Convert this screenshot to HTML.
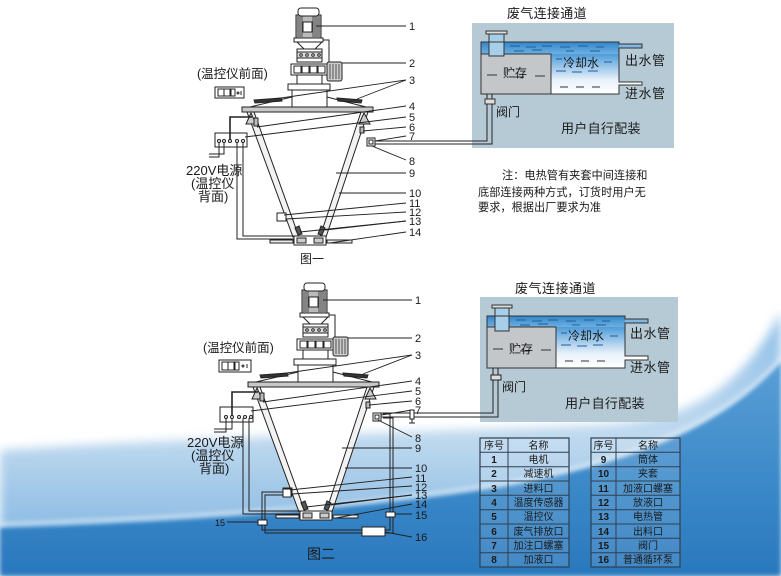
<!DOCTYPE html>
<html><head><meta charset="utf-8"><style>
html,body{margin:0;padding:0;background:#fff;}
svg{display:block;}
text{font-family:"Liberation Sans","Noto Sans CJK SC",sans-serif;fill:#1a1a1a;}
</style></head><body>
<svg width="781" height="576" viewBox="0 0 781 576" xmlns="http://www.w3.org/2000/svg">
<defs>
<linearGradient id="gl" gradientUnits="userSpaceOnUse" x1="0" y1="320" x2="0" y2="530">
<stop offset="0" stop-color="#8fbfe8"/><stop offset="0.55" stop-color="#c0daef"/><stop offset="1" stop-color="#8cbbe3"/></linearGradient>
<linearGradient id="gd" gradientUnits="userSpaceOnUse" x1="0" y1="360" x2="0" y2="576">
<stop offset="0" stop-color="#5b9fd6"/><stop offset="0.6" stop-color="#3a88c8"/><stop offset="1" stop-color="#2a78bd"/></linearGradient>
<linearGradient id="wtop" x1="0" y1="0" x2="0" y2="1"><stop offset="0" stop-color="#2f86cc"/><stop offset="1" stop-color="#6fb0e0"/></linearGradient>
<linearGradient id="wcool" x1="0" y1="0" x2="0" y2="1"><stop offset="0" stop-color="#4f9cd9"/><stop offset="0.65" stop-color="#e8f2fa"/><stop offset="1" stop-color="#ffffff"/></linearGradient>
<filter id="bl" x="-10%" y="-10%" width="120%" height="130%"><feGaussianBlur stdDeviation="5"/></filter>
<filter id="bl2"><feGaussianBlur stdDeviation="2"/></filter>
</defs>

<!-- background wave -->
<path d="M0,450 C180,438 420,432 600,425 C690,420 740,390 781,312 V576 H0 Z" fill="url(#gl)" filter="url(#bl)"/>
<path d="M0,528 C200,522 400,506 520,484 C620,464 720,432 781,362 V576 H0 Z" fill="url(#gd)" filter="url(#bl2)"/>
<path d="M0,524 C200,518 400,502 520,480 C620,460 720,428 781,358" fill="none" stroke="#e6f1fa" stroke-width="3" opacity="0.7" filter="url(#bl2)"/>

<!-- ================= TOP MACHINE ================= -->
<g id="mach" stroke="#222" stroke-width="1" fill="#fff">
 <polygon points="247,112 368,112 326,238 293,238" stroke="none"/>
 <polygon points="247,112 254,112 299,237 293,237" fill="#f2f2f2"/>
 <polygon points="361,112 368,112 326,237 320,237" fill="#f2f2f2"/>
 <polygon points="246,124 251,113 256,124" fill="#ccc"/>
 <polygon points="359,124 364,113 370,124" fill="#ccc"/>
 <rect x="254" y="118" width="4" height="8" fill="#bbb"/>
 <rect x="360" y="127" width="4" height="6" fill="#bbb"/>
 <polygon points="292,97 250,107 366,107 327,97"/>
 <rect x="242" y="107" width="131" height="5" fill="#c8c8c8"/>
 <polygon points="254,100 281,98 282,101 255,103" fill="#333"/>
 <polygon points="337,98 362,100 361,103 338,101" fill="#333"/>
 <rect x="292" y="90" width="35" height="17"/>
 <rect x="288" y="84" width="42" height="6"/>
 <rect x="297" y="75" width="25" height="9"/>
 <rect x="291" y="64" width="36" height="11"/>
 <rect x="294" y="66" width="7" height="7"/><rect x="302" y="66" width="7" height="7"/><rect x="310" y="66" width="7" height="7"/><rect x="318" y="66" width="7" height="7"/>
 <rect x="297" y="49" width="25" height="13"/>
 <rect x="297" y="52" width="25" height="6" fill="#ddd"/>
 <circle cx="301" cy="55" r="1.3"/><circle cx="307" cy="55" r="1.3"/><circle cx="313" cy="55" r="1.3"/><circle cx="319" cy="55" r="1.3"/>
 <polygon points="297,42 322,42 315,49 304,49"/>
 <rect x="294" y="38" width="29" height="4"/>
 <rect x="296" y="15" width="25" height="23" fill="#bbb"/>
 <g stroke="#333" stroke-width="0.8">
  <line x1="298" y1="16" x2="298" y2="37"/><line x1="300" y1="16" x2="300" y2="37"/><line x1="302" y1="16" x2="302" y2="37"/><line x1="313" y1="16" x2="313" y2="37"/><line x1="315" y1="16" x2="315" y2="37"/><line x1="317" y1="16" x2="317" y2="37"/><line x1="319" y1="16" x2="319" y2="37"/>
 </g>
 <rect x="298" y="8" width="21" height="8" rx="3"/>
 <rect x="303" y="22" width="9" height="10"/>
 <path d="M323,40 H329 V62" fill="none"/>
 <rect x="327" y="62" width="15" height="19" rx="2" fill="#ccc"/>
 <g stroke="#333" stroke-width="0.8"><line x1="330" y1="64" x2="330" y2="79"/><line x1="333" y1="64" x2="333" y2="79"/><line x1="336" y1="64" x2="336" y2="79"/><line x1="339" y1="64" x2="339" y2="79"/></g>
 <rect x="367" y="138" width="8" height="8"/><rect x="369" y="140" width="4" height="4"/>
 <rect x="277" y="213" width="9" height="8"/>
 <polygon points="295,228 299,226 302,234 298,235" fill="#555"/>
 <polygon points="321,226 325,228 322,235 318,234" fill="#555"/>
 <rect x="270" y="240" width="23" height="3" fill="#eee"/>
 <rect x="327" y="240" width="25" height="3" fill="#eee"/>
 <rect x="294" y="236" width="32" height="9"/>
 <rect x="297" y="238" width="9" height="5" fill="#ccc"/><rect x="314" y="238" width="9" height="5" fill="#ccc"/>
</g>

<!-- top controller -->
<g stroke="#222" fill="#fff">
 <rect x="215" y="87" width="29" height="11"/>
 <rect x="218" y="89" width="6" height="7"/><rect x="224" y="89" width="6" height="7"/><rect x="231" y="89" width="4" height="7"/>
 <circle cx="238" cy="93" r="1" /><line x1="241" y1="91" x2="241" y2="95"/>
 <rect x="215" y="133" width="32" height="14"/>
 <circle cx="219" cy="141" r="1.5"/><circle cx="224" cy="141" r="1.5"/><circle cx="230" cy="141" r="1.5"/><circle cx="237" cy="141" r="1.5"/><circle cx="243" cy="141" r="1.5"/>
 <path d="M230,140 V117 H252" fill="none" stroke-width="1.6"/>
 <path d="M219,142 V157 H209" fill="none"/><path d="M224,142 V154 H209" fill="none"/>
 <path d="M237,142 V239 H294" fill="none"/><path d="M243,142 V236 H294" fill="none"/>
 <line x1="245" y1="137" x2="406" y2="117"/>
</g>

<!-- top label lines -->
<g stroke="#222" stroke-width="0.9">
 <line x1="316" y1="26" x2="406" y2="26"/>
 <line x1="342" y1="63" x2="406" y2="63"/>
 <line x1="274" y1="99" x2="406" y2="80"/><line x1="357" y1="99" x2="406" y2="80"/>
 <line x1="257" y1="127" x2="406" y2="106"/>
 <line x1="363" y1="131" x2="406" y2="127"/>
 <line x1="375" y1="141" x2="406" y2="136"/>
 <line x1="372" y1="146" x2="406" y2="160"/>
 <line x1="336" y1="173" x2="406" y2="173"/>
 <line x1="339" y1="193" x2="406" y2="193"/>
 <line x1="284" y1="215" x2="406" y2="203"/>
 <line x1="286" y1="219" x2="406" y2="212"/>
 <line x1="300" y1="232" x2="406" y2="221"/><line x1="325" y1="230" x2="406" y2="221"/>
 <line x1="330" y1="243" x2="406" y2="232"/>
</g>
<g font-size="11">
 <text x="409" y="30">1</text><text x="409" y="67">2</text><text x="409" y="84">3</text>
 <text x="409" y="110">4</text><text x="409" y="121">5</text><text x="409" y="131">6</text>
 <text x="409" y="140">7</text><text x="409" y="165">8</text><text x="409" y="177">9</text>
 <text x="409" y="197">10</text><text x="409" y="207">11</text><text x="409" y="216">12</text>
 <text x="409" y="225">13</text><text x="409" y="236">14</text>
</g>
<text x="197" y="78" font-size="12.5">(温控仪前面)</text>
<text x="186" y="175" font-size="13">220V电源</text>
<text x="191" y="188" font-size="13">(温控仪</text>
<text x="198" y="201" font-size="13">背面)</text>
<text x="300" y="263" font-size="12">图一</text>

<!-- TOP TANK -->
<rect x="472" y="23" width="202" height="125" fill="#b6cad6"/>
<rect x="481" y="42" width="138" height="12" fill="url(#wtop)"/>
<rect x="551" y="54" width="68" height="40" fill="url(#wcool)"/>
<rect x="619" y="44" width="23" height="4" fill="#7fb6e2"/>
<rect x="619" y="82" width="23" height="3" fill="#fff"/>
<rect x="481" y="54" width="70" height="40" fill="#c4c7ca" stroke="#333"/>
<path d="M481,42 H619 V44 H642 V48 H619 V82 H642 V85 H619 V94 H481 Z" fill="none" stroke="#333"/>
<g stroke="#1e5f9c" stroke-width="1">
 <line x1="510" y1="46" x2="520" y2="46"/><line x1="526" y1="47" x2="536" y2="47"/><line x1="542" y1="46" x2="552" y2="46"/><line x1="560" y1="47" x2="570" y2="47"/><line x1="578" y1="46" x2="588" y2="46"/><line x1="596" y1="47" x2="604" y2="47"/>
 <line x1="514" y1="51" x2="524" y2="51"/><line x1="532" y1="50" x2="542" y2="50"/><line x1="566" y1="51" x2="574" y2="51"/><line x1="590" y1="51" x2="600" y2="51"/>
 <line x1="556" y1="59" x2="562" y2="59"/><line x1="604" y1="62" x2="612" y2="62"/><line x1="556" y1="71" x2="566" y2="71"/><line x1="572" y1="72" x2="582" y2="72"/><line x1="588" y1="71" x2="598" y2="71"/>
</g>
<g stroke="#333"><line x1="560" y1="87" x2="568" y2="87"/><line x1="576" y1="87" x2="584" y2="87"/><line x1="592" y1="87" x2="600" y2="87"/>
 <line x1="487" y1="75" x2="497" y2="75"/><line x1="535" y1="76" x2="545" y2="76"/><line x1="514" y1="77" x2="524" y2="77"/></g>
<rect x="489" y="34" width="15" height="22" fill="#a8cfea" stroke="#333"/>
<rect x="486" y="31" width="21" height="3" fill="#ddd" stroke="#333"/>
<line x1="489" y1="42" x2="504" y2="42" stroke="#333"/>
<!-- top pipe to tank (drawn over box) -->
<g stroke="#222" fill="none">
 <path d="M375,141 H487 V94"/><path d="M375,144 H492 V94"/>
</g>
<rect x="485" y="99" width="10" height="5" fill="#ddd" stroke="#333"/>
<text x="507" y="18" font-size="13" letter-spacing="0.3">废气连接通道</text>
<text x="625" y="65" font-size="13" letter-spacing="0.5">出水管</text>
<text x="625" y="98" font-size="13" letter-spacing="0.5">进水管</text>
<text x="563" y="67" font-size="12">冷却水</text>
<text x="503" y="77" font-size="12">贮存</text>
<text x="496" y="116" font-size="12">阀门</text>
<text x="561" y="133" font-size="13" letter-spacing="0.3">用户自行配装</text>

<!-- note -->
<text x="502" y="179" font-size="11.2">注：电热管有夹套中间连接和</text>
<text x="478" y="196" font-size="11.2">底部连接两种方式，订货时用户无</text>
<text x="478" y="211" font-size="11.2">要求，根据出厂要求为准</text>

<!-- ================= BOTTOM MACHINE ================= -->
<use href="#mach" transform="translate(6,275)"/>
<g stroke="#222" fill="#fff">
 <rect x="219" y="360" width="32" height="12"/>
 <rect x="222" y="362" width="6" height="8"/><rect x="228" y="362" width="6" height="8"/><rect x="235" y="362" width="4" height="8"/>
 <circle cx="243" cy="366" r="1"/><line x1="247" y1="364" x2="247" y2="368"/>
 <rect x="220" y="407" width="33" height="15"/>
 <circle cx="226" cy="417" r="1.5"/><circle cx="232" cy="417" r="1.5"/><circle cx="239" cy="417" r="1.5"/><circle cx="245" cy="417" r="1.5"/><circle cx="251" cy="417" r="1.5"/>
 <path d="M232,416 V392 H258" fill="none" stroke-width="1.6"/>
 <path d="M226,418 V432 H214" fill="none"/><path d="M232,418 V429 H214" fill="none"/>
 <path d="M243,418 V514 H300" fill="none"/><path d="M249,418 V511 H300" fill="none"/>
</g>
<!-- bottom loop -->
<g stroke="#222" fill="none">
 <path d="M383,414 H390 V530 H262 V492 H283"/>
 <path d="M383,418 H393 V533 H265 V495 H283"/>
</g>
<g stroke="#222" fill="#fff">
 <rect x="283" y="489" width="8" height="8"/>
 <rect x="362" y="527" width="23" height="9"/>
 <rect x="386" y="512" width="9" height="5"/>
 <rect x="258" y="520" width="9" height="5"/>
</g>
<g stroke="#222" stroke-width="0.9">
 <line x1="323" y1="300" x2="412" y2="300"/>
 <line x1="348" y1="338" x2="412" y2="338"/>
 <line x1="280" y1="374" x2="412" y2="355"/><line x1="363" y1="374" x2="412" y2="355"/>
 <line x1="263" y1="402" x2="412" y2="381"/>
 <line x1="251" y1="411" x2="412" y2="391"/>
 <line x1="369" y1="405" x2="412" y2="401"/>
 <line x1="381" y1="415" x2="412" y2="410"/>
 <line x1="378" y1="420" x2="412" y2="437"/>
 <line x1="342" y1="448" x2="412" y2="448"/>
 <line x1="345" y1="468" x2="412" y2="468"/>
 <line x1="290" y1="490" x2="412" y2="477"/>
 <line x1="292" y1="494" x2="412" y2="486"/>
 <line x1="306" y1="507" x2="412" y2="495"/><line x1="331" y1="505" x2="412" y2="495"/>
 <line x1="336" y1="518" x2="412" y2="504"/>
 <line x1="395" y1="514" x2="412" y2="514"/>
 <line x1="227" y1="522" x2="258" y2="522"/>
 <line x1="385" y1="532" x2="412" y2="537"/>
</g>
<g font-size="11">
 <text x="415" y="304">1</text><text x="415" y="342">2</text><text x="415" y="359">3</text>
 <text x="415" y="385">4</text><text x="415" y="395">5</text><text x="415" y="405">6</text>
 <text x="415" y="414">7</text><text x="415" y="442">8</text><text x="415" y="452">9</text>
 <text x="415" y="472">10</text><text x="415" y="482">11</text><text x="415" y="491">12</text>
 <text x="415" y="499">13</text><text x="415" y="508">14</text><text x="415" y="519">15</text>
 <text x="415" y="541">16</text>
</g>
<text x="215" y="526" font-size="9">15</text>
<text x="203" y="352" font-size="12.5">(温控仪前面)</text>
<text x="187" y="447" font-size="13">220V电源</text>
<text x="191" y="460" font-size="13">(温控仪</text>
<text x="199" y="473" font-size="13">背面)</text>
<text x="307" y="559" font-size="14">图二</text>

<!-- BOTTOM TANK -->
<rect x="480" y="297" width="198" height="125" fill="#b6cad6"/>
<rect x="487" y="316" width="138" height="11" fill="url(#wtop)"/>
<rect x="556" y="327" width="69" height="41" fill="url(#wcool)"/>
<rect x="625" y="319" width="23" height="4" fill="#7fb6e2"/>
<rect x="625" y="356" width="23" height="4" fill="#fff"/>
<rect x="487" y="327" width="69" height="41" fill="#c4c7ca" stroke="#333"/>
<path d="M487,316 H625 V319 H648 V323 H625 V356 H648 V360 H625 V368 H487 Z" fill="none" stroke="#333"/>
<g stroke="#1e5f9c" stroke-width="1">
 <line x1="516" y1="320" x2="526" y2="320"/><line x1="532" y1="321" x2="542" y2="321"/><line x1="548" y1="320" x2="558" y2="320"/><line x1="566" y1="321" x2="576" y2="321"/><line x1="584" y1="320" x2="594" y2="320"/><line x1="602" y1="321" x2="610" y2="321"/>
 <line x1="520" y1="325" x2="530" y2="325"/><line x1="538" y1="324" x2="548" y2="324"/><line x1="572" y1="325" x2="580" y2="325"/><line x1="596" y1="325" x2="606" y2="325"/>
 <line x1="561" y1="333" x2="567" y2="333"/><line x1="610" y1="336" x2="618" y2="336"/><line x1="561" y1="345" x2="571" y2="345"/><line x1="577" y1="346" x2="587" y2="346"/><line x1="593" y1="345" x2="603" y2="345"/>
</g>
<g stroke="#333"><line x1="565" y1="361" x2="573" y2="361"/><line x1="581" y1="361" x2="589" y2="361"/><line x1="597" y1="361" x2="605" y2="361"/>
 <line x1="493" y1="349" x2="503" y2="349"/><line x1="541" y1="350" x2="551" y2="350"/><line x1="520" y1="351" x2="530" y2="351"/></g>
<rect x="495" y="308" width="14" height="23" fill="#a8cfea" stroke="#333"/>
<rect x="492" y="305" width="20" height="3" fill="#ddd" stroke="#333"/>
<line x1="495" y1="316" x2="509" y2="316" stroke="#333"/>
<!-- bottom pipe to tank (over box) -->
<g stroke="#222" fill="none">
 <path d="M381,413 H493 V368"/><path d="M381,417 H498 V368"/>
</g>
<g stroke="#222" fill="#fff">
 <rect x="491" y="375" width="10" height="5" fill="#ddd"/>
 <rect x="410" y="410" width="4" height="9"/>
 <line x1="412" y1="419" x2="412" y2="423"/><line x1="409" y1="423" x2="415" y2="423"/>
</g>
<text x="515" y="293" font-size="13" letter-spacing="0.5">废气连接通道</text>
<text x="630" y="338" font-size="13" letter-spacing="0.5">出水管</text>
<text x="630" y="372" font-size="13" letter-spacing="0.5">进水管</text>
<text x="568" y="340" font-size="12">冷却水</text>
<text x="509" y="353" font-size="12">贮存</text>
<text x="502" y="391" font-size="12">阀门</text>
<text x="565" y="408" font-size="13" letter-spacing="0.3">用户自行配装</text>

<!-- TABLES -->
<g fill="rgba(255,255,255,0.12)" stroke="#2f3f52" stroke-width="1.2">
 <rect x="480" y="438" width="89" height="129"/>
 <rect x="591" y="438" width="89" height="129"/>
</g>
<g stroke="#2f3f52" stroke-width="1">
 <line x1="508" y1="438" x2="508" y2="567"/><line x1="616" y1="438" x2="616" y2="567"/>
 <line x1="480" y1="452.3" x2="569" y2="452.3"/><line x1="480" y1="466.7" x2="569" y2="466.7"/><line x1="480" y1="481" x2="569" y2="481"/><line x1="480" y1="495.3" x2="569" y2="495.3"/><line x1="480" y1="509.7" x2="569" y2="509.7"/><line x1="480" y1="524" x2="569" y2="524"/><line x1="480" y1="538.3" x2="569" y2="538.3"/><line x1="480" y1="552.7" x2="569" y2="552.7"/>
 <line x1="591" y1="452.3" x2="680" y2="452.3"/><line x1="591" y1="466.7" x2="680" y2="466.7"/><line x1="591" y1="481" x2="680" y2="481"/><line x1="591" y1="495.3" x2="680" y2="495.3"/><line x1="591" y1="509.7" x2="680" y2="509.7"/><line x1="591" y1="524" x2="680" y2="524"/><line x1="591" y1="538.3" x2="680" y2="538.3"/><line x1="591" y1="552.7" x2="680" y2="552.7"/>
</g>
<g font-size="10" text-anchor="middle">
 <text x="494" y="449">序号</text><text x="538.5" y="449">名称</text>
 <text x="603.5" y="449">序号</text><text x="648" y="449">名称</text>
 <g font-weight="bold">
 <text x="494" y="463">1</text><text x="494" y="477">2</text><text x="494" y="492">3</text><text x="494" y="506">4</text><text x="494" y="520">5</text><text x="494" y="535">6</text><text x="494" y="549">7</text><text x="494" y="563">8</text>
 <text x="603.5" y="463">9</text><text x="603.5" y="477">10</text><text x="603.5" y="492">11</text><text x="603.5" y="506">12</text><text x="603.5" y="520">13</text><text x="603.5" y="535">14</text><text x="603.5" y="549">15</text><text x="603.5" y="563">16</text>
 </g>
 <text x="538.5" y="463">电机</text><text x="538.5" y="477">减速机</text><text x="538.5" y="492">进料口</text><text x="538.5" y="506">温度传感器</text><text x="538.5" y="520">温控仪</text><text x="538.5" y="535">废气排放口</text><text x="538.5" y="549">加注口螺塞</text><text x="538.5" y="563">加液口</text>
 <text x="648" y="463">筒体</text><text x="648" y="477">夹套</text><text x="648" y="492">加液口螺塞</text><text x="648" y="506">放液口</text><text x="648" y="520">电热管</text><text x="648" y="535">出料口</text><text x="648" y="549">阀门</text><text x="648" y="563">普通循环泵</text>
</g>
</svg>
</body></html>
